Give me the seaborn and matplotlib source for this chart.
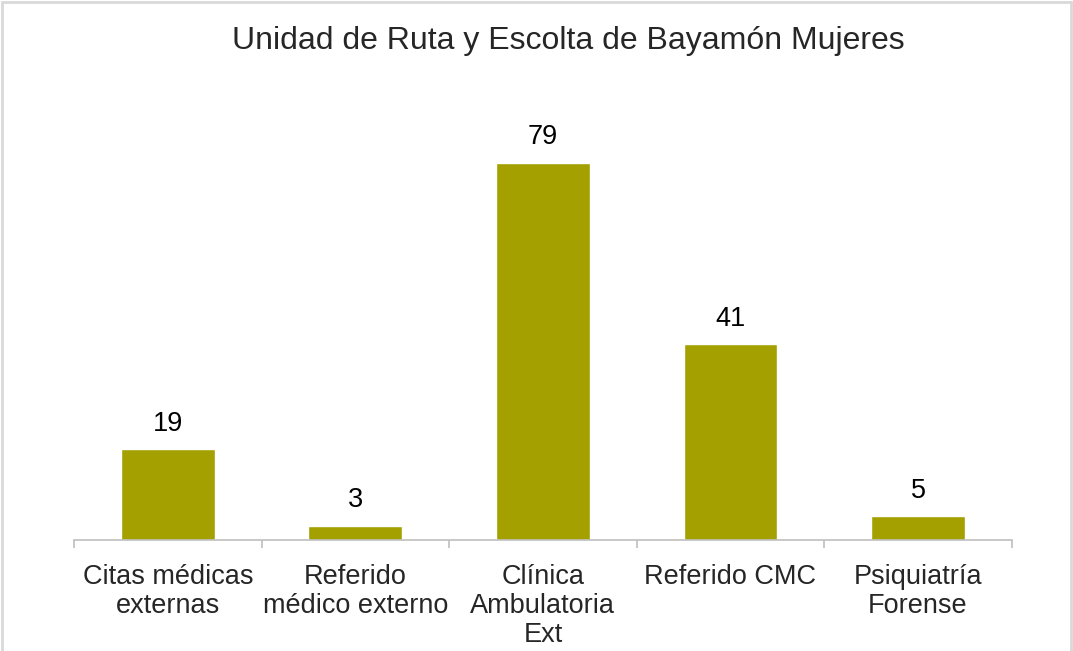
import pandas as pd
import seaborn as sns
import matplotlib.pyplot as plt
from matplotlib.lines import Line2D

# datos
categorias = ["Citas médicas\nexternas", "Referido\nmédico externo", "Clínica\nAmbulatoria\nExt",
              "Referido CMC", "Psiquiatría\nForense"]
valores = [19, 3, 79, 41, 5]
titulo = "Unidad de Ruta y Escolta de Bayamón Mujeres"

df = pd.DataFrame({"categoria": categorias, "valor": valores})

sns.set_theme(style="white")
plt.rcParams["font.family"] = ["Liberation Sans", "DejaVu Sans"]

fig = plt.figure(figsize=(10.73, 6.51), dpi=100)
ax = fig.add_axes([0.069, 0.1705, 0.874, 0.66])

sns.barplot(data=df, x="categoria", y="valor", color="#A3A000", saturation=1,
            width=0.5, ax=ax)

# etiquetas de valor
for i, v in enumerate(valores):
    ax.annotate(str(v), (i, v), xytext=(0, 9), textcoords="offset points",
                ha="center", va="bottom", fontsize=19.5, color="#000000")

ax.set_ylim(0, 90)
ax.set_xlim(-0.5, len(categorias) - 0.5)
ax.set_xlabel("")
ax.set_ylabel("")
ax.set_yticks([])
for s in ["left", "right", "top"]:
    ax.spines[s].set_visible(False)
ax.spines["bottom"].set_color("#BFBFBF")
ax.spines["bottom"].set_linewidth(1.2)

# marcas entre categorias
ax.set_xticks([i - 0.5 for i in range(len(categorias) + 1)], minor=True)
ax.tick_params(axis="x", which="minor", bottom=True, length=6, width=1.2, color="#BFBFBF")
ax.tick_params(axis="x", which="major", bottom=False, labelsize=19.5, pad=11)
for lbl in ax.get_xticklabels():
    lbl.set_linespacing(1.15)
    lbl.set_verticalalignment("top")

fig.text(568 / 1073, 1 - 41 / 651, titulo, ha="center", va="center", fontsize=23)

# borde del grafico
borde = "#D9D9D9"
fig.add_artist(Line2D([0.0015, 0.0015], [0, 0.997], color=borde, lw=2, transform=fig.transFigure))
fig.add_artist(Line2D([0.0015, 0.9985], [0.997, 0.997], color=borde, lw=2, transform=fig.transFigure))
fig.add_artist(Line2D([0.9985, 0.9985], [0, 0.997], color=borde, lw=2, transform=fig.transFigure))

fig.savefig("out.png", dpi=100)
